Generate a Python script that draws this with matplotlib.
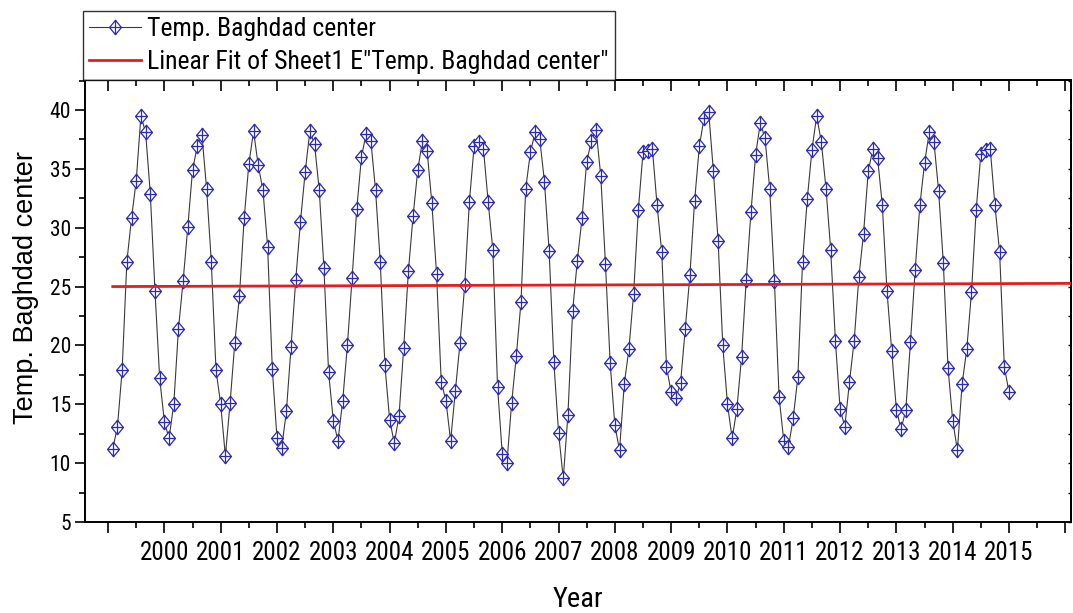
import numpy as np
import matplotlib
matplotlib.use("Agg")
import matplotlib.pyplot as plt
from matplotlib.path import Path
from matplotlib.ticker import FixedLocator, MultipleLocator

# monthly mean temperature, Baghdad center, Jan 1999 .. Dec 2014
years = list(range(1999, 2015))
months = list(range(1, 13))
temp_baghdad = [
    11.2, 13.1, 17.9, 27.1, 30.8, 34.0, 39.5, 38.1, 32.9, 24.6, 17.2, 13.5,
    12.1, 15.0, 21.4, 25.5, 30.1, 34.9, 36.9, 37.9, 33.3, 27.1, 17.9, 15.0,
    10.6, 15.1, 20.2, 24.2, 30.8, 35.4, 38.2, 35.3, 33.2, 28.4, 18.0, 12.1,
    11.3, 14.4, 19.9, 25.6, 30.5, 34.7, 38.2, 37.1, 33.2, 26.6, 17.7, 13.6,
    11.9, 15.3, 20.0, 25.7, 31.6, 36.0, 38.0, 37.4, 33.2, 27.1, 18.3, 13.7,
    11.7, 14.0, 19.8, 26.3, 31.0, 34.9, 37.4, 36.5, 32.1, 26.1, 16.9, 15.3,
    11.9, 16.1, 20.2, 25.1, 32.2, 36.9, 37.3, 36.7, 32.2, 28.1, 16.5, 10.8,
    10.0, 15.1, 19.1, 23.7, 33.3, 36.4, 38.1, 37.5, 33.9, 28.0, 18.6, 12.6,
    8.7, 14.1, 22.9, 27.2, 30.8, 35.6, 37.4, 38.3, 34.4, 26.9, 18.5, 13.2,
    11.1, 16.7, 19.7, 24.4, 31.5, 36.4, 36.5, 36.7, 31.9, 27.9, 18.2, 16.0,
    15.5, 16.8, 21.4, 26.0, 32.3, 36.9, 39.3, 39.8, 34.8, 28.9, 20.0, 15.0,
    12.1, 14.6, 19.0, 25.6, 31.3, 36.2, 38.9, 37.6, 33.3, 25.5, 15.6, 11.9,
    11.4, 13.8, 17.3, 27.1, 32.4, 36.6, 39.5, 37.3, 33.3, 28.1, 20.4, 14.6,
    13.1, 16.9, 20.4, 25.8, 29.5, 34.8, 36.7, 35.9, 31.9, 24.6, 19.5, 14.5,
    12.9, 14.5, 20.3, 26.4, 31.9, 35.5, 38.1, 37.3, 33.1, 27.0, 18.1, 13.6,
    11.1, 16.7, 19.7, 24.5, 31.5, 36.3, 36.6, 36.7, 31.9, 27.9, 18.2, 16.0,
]

# linear fit as reported: value at first month and at the right edge
fit_ends = [25.0, 25.27]

year_ticks = list(range(1999, 2017))
year_labels = [str(y) if 2000 <= y <= 2015 else "" for y in year_ticks]

series_label = "Temp. Baghdad center"
fit_label = 'Linear Fit of Sheet1 E"Temp. Baghdad center"'

# decimal year: January of year Y sits at Y + 1/12
x_time = np.array([y + m / 12 for y in years for m in months])
temp = np.array(temp_baghdad)

narrow = ["Liberation Sans Narrow", "Roboto Condensed", "DejaVu Sans Condensed",
          "Liberation Sans", "DejaVu Sans"]
plt.rcParams["font.family"] = narrow
plt.rcParams["font.stretch"] = "condensed"

# diamond symbol with a cross inside
verts = [(0, 1), (0.82, 0), (0, -1), (-0.82, 0), (0, 1),
         (0, 1), (0, -1), (-0.82, 0), (0.82, 0)]
codes = [Path.MOVETO, Path.LINETO, Path.LINETO, Path.LINETO, Path.CLOSEPOLY,
         Path.MOVETO, Path.LINETO, Path.MOVETO, Path.LINETO]
diamond_cross = Path(verts, codes)

fig = plt.figure(figsize=(10.73, 6.13), dpi=100)
ax = fig.add_axes([0.0792, 0.1485, 0.9189, 0.7210])

ax.plot(x_time, temp, color="#3a3a3a", lw=0.8, marker=diamond_cross, ms=10.4,
        mec="#2b2bb5", mfc="white", mew=0.9, label=series_label, zorder=3)

xmin, xmax = 1998.59, 2016.10
ax.plot([x_time[0], xmax], fit_ends, color="#e41e1e", lw=2.0,
        label=fit_label, zorder=4)

ax.set_xlim(xmin, xmax)
ax.set_ylim(5, 42.55)

ax.xaxis.set_major_locator(FixedLocator(year_ticks))
ax.xaxis.set_minor_locator(FixedLocator([y + 0.5 for y in year_ticks[:-1]]))
ax.set_xticklabels(year_labels)
ax.yaxis.set_major_locator(MultipleLocator(5))
ax.yaxis.set_minor_locator(MultipleLocator(2.5))

ax.tick_params(axis="x", which="major", direction="out", length=8, width=1.2,
               labelsize=18, pad=6)
ax.tick_params(axis="x", which="minor", direction="out", length=4, width=1.2)
ax.tick_params(axis="y", which="major", direction="out", length=7, width=1.2,
               labelsize=15.5, pad=3)
ax.tick_params(axis="y", which="minor", direction="out", length=4, width=1.2)

for s in ax.spines.values():
    s.set_linewidth(1.4)

# inward ticks on top and right
top = ax.secondary_xaxis("top")
top.xaxis.set_major_locator(FixedLocator(year_ticks))
top.xaxis.set_minor_locator(FixedLocator([y + 0.5 for y in year_ticks[:-1]]))
top.tick_params(which="major", direction="in", length=8, width=1.2, labeltop=False)
top.tick_params(which="minor", direction="in", length=4, width=1.2)
top.spines["top"].set_linewidth(1.4)

right = ax.secondary_yaxis("right")
right.yaxis.set_major_locator(MultipleLocator(5))
right.yaxis.set_minor_locator(MultipleLocator(2.5))
right.tick_params(which="both", direction="in", length=2.5, width=1.0, labelright=False)
right.spines["right"].set_linewidth(1.4)

ax.set_xlabel("Year", fontsize=20.5)
ax.xaxis.set_label_coords(0.5, -0.145)
ax.set_ylabel(series_label, fontsize=19.5, family=["Liberation Sans", "DejaVu Sans"],
              fontstretch="normal")
ax.yaxis.set_label_coords(-0.047, 0.53)

leg = fig.legend(loc="lower left", bbox_to_anchor=(83 / 1073, 1 - 80 / 613),
                 fontsize=18.5, frameon=True, fancybox=False, borderpad=0.25,
                 labelspacing=0.3, handlelength=2.0, handletextpad=0.25,
                 borderaxespad=0)
leg.get_frame().set_edgecolor("black")
leg.get_frame().set_linewidth(1.0)

fig.savefig("out.png", dpi=100)
